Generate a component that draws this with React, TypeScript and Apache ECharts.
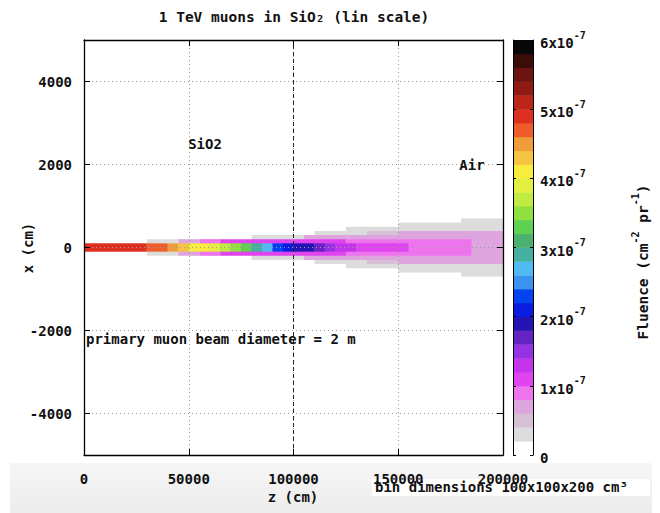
import React, { useEffect, useRef } from "react";
import * as echarts from "echarts";

// ---- data (fluence in units of 1e-7 cm^-2 pr^-1) ----
const zBinWidth = 5000; // cm, 40 bins over 0..200000
const ringWidth = 100; // cm, |x| rings around the beam axis

// core |x| < 100 cm
const ring0 = [4.9, 4.9, 4.9, 4.9, 4.9, 4.9, 4.7, 4.7, 4.5, 4.3, 4.1, 4.1, 3.9, 3.7, 3.5, 3.3, 2.9, 2.7, 2.3, 2.1, 1.9, 1.9, 1.7, 1.5, 1.3, 1.3, 1.1, 1.1, 1.1, 1.1, 1.1, 0.9, 0.9, 0.9, 0.9, 0.9, 0.9, 0.7, 0.7, 0.7];
// 100 < |x| < 200
const ring1 = [0, 0, 0, 0, 0, 0, 0.3, 0.3, 0.3, 0.7, 0.7, 0.9, 0.9, 1.1, 1.1, 1.1, 1.1, 1.1, 1.1, 1.1, 1.1, 1.1, 1.1, 1.1, 1.1, 0.9, 0.9, 0.9, 0.9, 0.9, 0.9, 0.9, 0.9, 0.9, 0.9, 0.9, 0.9, 0.7, 0.7, 0.7];
// 200 < |x| < 300
const ring2 = [0, 0, 0, 0, 0, 0, 0, 0, 0, 0, 0, 0, 0, 0, 0, 0, 0.3, 0.3, 0.3, 0.3, 0.3, 0.7, 0.7, 0.7, 0.7, 0.7, 0.7, 0.7, 0.7, 0.7, 0.7, 0.7, 0.7, 0.7, 0.7, 0.7, 0.7, 0.7, 0.7, 0.7];
// 300 < |x| < 400
const ring3 = [0, 0, 0, 0, 0, 0, 0, 0, 0, 0, 0, 0, 0, 0, 0, 0, 0, 0, 0, 0, 0, 0, 0.3, 0.3, 0.3, 0.3, 0.3, 0.5, 0.5, 0.5, 0.7, 0.7, 0.7, 0.7, 0.7, 0.7, 0.7, 0.7, 0.7, 0.7];
// 400 < |x| < 500
const ring4 = [0, 0, 0, 0, 0, 0, 0, 0, 0, 0, 0, 0, 0, 0, 0, 0, 0, 0, 0, 0, 0, 0, 0, 0, 0, 0.3, 0.3, 0.3, 0.3, 0.3, 0.3, 0.3, 0.3, 0.3, 0.3, 0.3, 0.3, 0.3, 0.3, 0.3];
// 500 < |x| < 600
const ring5 = [0, 0, 0, 0, 0, 0, 0, 0, 0, 0, 0, 0, 0, 0, 0, 0, 0, 0, 0, 0, 0, 0, 0, 0, 0, 0, 0, 0, 0, 0, 0.3, 0.3, 0.3, 0.3, 0.3, 0.3, 0.3, 0.3, 0.3, 0.3];
// 600 < |x| < 700
const ring6 = [0, 0, 0, 0, 0, 0, 0, 0, 0, 0, 0, 0, 0, 0, 0, 0, 0, 0, 0, 0, 0, 0, 0, 0, 0, 0, 0, 0, 0, 0, 0, 0, 0, 0, 0, 0, 0.3, 0.3, 0.3, 0.3];

const rings = [ring0, ring1, ring2, ring3, ring4, ring5, ring6];

// colour palette, 30 levels of 0.2e-7 each, from 0 to 6e-7
const paletteColors = [
  "#ffffff", "#dcdcdc", "#d6c0d6", "#dea4de", "#ee74ee", "#e044ee", "#c434ea", "#9632e4", "#6424c4", "#2414b4",
  "#0a1ce0", "#0444f0", "#3c92f0", "#52baf2", "#46b0a0", "#4cb070", "#5ed052", "#90e042", "#c0ec42", "#e4f040",
  "#f8ec3e", "#f4c442", "#f09c3a", "#ee5c2a", "#de3020", "#bc2618", "#901a12", "#6c1410", "#3c0c08", "#080808",
];
const levelStep = 0.2;
const fluenceMax = 6;

const xTickValues = [0, 50000, 100000, 150000, 200000];
const yTickValues = [-4000, -2000, 0, 2000, 4000];

const FONT = '"DejaVu Sans Mono", monospace';

function colorFor(v: number) {
  const k = Math.min(paletteColors.length - 1, Math.floor(v / levelStep));
  return paletteColors[k];
}

function buildCells() {
  const cells: number[][] = [];
  for (let r = rings.length - 1; r >= 0; r--) {
    const arr = rings[r];
    let i = 0;
    while (i < arr.length) {
      const v = arr[i];
      let j = i;
      while (j + 1 < arr.length && arr[j + 1] === v) j++;
      if (v > 0) {
        cells.push([i * zBinWidth, (j + 1) * zBinWidth, -(r + 1) * ringWidth, (r + 1) * ringWidth, v]);
      }
      i = j + 1;
    }
  }
  return cells;
}

export default function App() {
  const ref = useRef<HTMLDivElement>(null);
  useEffect(() => {
    if (!ref.current) return;
    const chart = echarts.init(ref.current, undefined, { renderer: "svg" });
    const cells = buildCells();
    const cbData = paletteColors.map((c, k) => [k * levelStep, (k + 1) * levelStep, k]);

    const baseLabel = { fontFamily: FONT, fontWeight: "bold" as const, fontSize: 14, color: "#111" };
    const axisLineStyle = { color: "#000", width: 1.3 };

    const option: any = {
      animation: false,
      backgroundColor: "#ffffff",
      grid: [
        { left: 84, top: 40, width: 419, height: 415, containLabel: false },
        { left: 513, top: 40, width: 20, height: 415, containLabel: false },
      ],
      xAxis: [
        {
          gridIndex: 0, type: "value", min: 0, max: 200000, interval: 50000, position: "bottom", z: 5,
          axisLine: { show: true, onZero: false, lineStyle: axisLineStyle },
          axisTick: { show: true, inside: true, length: 6, lineStyle: { color: "#000" } },
          axisLabel: { ...baseLabel, margin: 17, formatter: (v: number) => (xTickValues.includes(v) ? String(v) : "") },
          splitLine: { show: true, lineStyle: { color: "#9a9a9a", type: [1, 3], width: 1 } },
        },
        {
          gridIndex: 0, type: "value", min: 0, max: 200000, interval: 50000, position: "top", z: 5,
          axisLine: { show: true, onZero: false, lineStyle: axisLineStyle },
          axisTick: { show: true, inside: true, length: 6, lineStyle: { color: "#000" } },
          axisLabel: { show: false }, splitLine: { show: false },
        },
        { gridIndex: 1, type: "value", min: 0, max: 1, show: false },
      ],
      yAxis: [
        {
          gridIndex: 0, type: "value", min: -5000, max: 5000, splitNumber: 5, position: "left", z: 5,
          axisLine: { show: true, onZero: false, lineStyle: axisLineStyle },
          axisTick: { show: true, inside: true, length: 6, lineStyle: { color: "#000" } },
          axisLabel: { ...baseLabel, margin: 12, showMinLabel: false, showMaxLabel: false, formatter: (v: number) => (yTickValues.includes(v) ? String(v) : "") },
          splitLine: { show: true, showMinLine: false, showMaxLine: false, lineStyle: { color: "#9a9a9a", type: [1, 3], width: 1 } },
        },
        {
          gridIndex: 0, type: "value", min: -5000, max: 5000, splitNumber: 5, position: "right", z: 5,
          axisLine: { show: true, onZero: false, lineStyle: axisLineStyle },
          axisTick: { show: true, inside: true, length: 6, lineStyle: { color: "#000" } },
          axisLabel: { show: false }, splitLine: { show: false },
        },
        {
          gridIndex: 1, type: "value", min: 0, max: fluenceMax, interval: 1, position: "right", z: 5,
          axisLine: { show: true, onZero: false, lineStyle: { color: "#000", width: 1 } },
          axisTick: { show: true, inside: true, length: 5, lineStyle: { color: "#000", type: [3, 2] } },
          axisLabel: {
            margin: 7,
            formatter: (v: number) => (v === 0 ? "{b|0}" : `{b|${v}x10}{s|-7}`),
            rich: {
              b: { ...baseLabel, lineHeight: 20, verticalAlign: "bottom" },
              s: { ...baseLabel, fontSize: 10, lineHeight: 20, verticalAlign: "top" },
            },
          },
          splitLine: { show: false },
        },
        {
          gridIndex: 1, type: "value", min: 0, max: fluenceMax, interval: 1, position: "left", z: 5,
          axisLine: { show: true, onZero: false, lineStyle: { color: "#000", width: 1 } },
          axisTick: { show: true, inside: true, length: 5, lineStyle: { color: "#000", type: [3, 2] } },
          axisLabel: { show: false }, splitLine: { show: false },
        },
      ],
      graphic: [
        {
          type: "rect", z: -10, shape: { x: 10, y: 463, width: 642, height: 50 },
          style: { fill: new echarts.graphic.LinearGradient(0, 0, 0, 1, [{ offset: 0, color: "#f6f6f6" }, { offset: 1, color: "#ececec" }]) },
        },
        { type: "rect", z: -9, shape: { x: 372, y: 479, width: 278, height: 17 }, style: { fill: "#ffffff" } },
        { type: "text", z: 20, x: 294, y: 17, style: { text: "1 TeV muons in SiO₂ (lin scale)", font: `bold 14.5px ${FONT}`, fill: "#111", textAlign: "center", textVerticalAlign: "middle" } },
        { type: "text", z: 20, x: 205, y: 144, style: { text: "SiO2", font: `bold 14px ${FONT}`, fill: "#111", textAlign: "center", textVerticalAlign: "middle" } },
        { type: "text", z: 20, x: 472, y: 165, style: { text: "Air", font: `bold 14px ${FONT}`, fill: "#111", textAlign: "center", textVerticalAlign: "middle" } },
        { type: "text", z: 20, x: 86, y: 339, style: { text: "primary muon beam diameter = 2 m", font: `bold 14px ${FONT}`, fill: "#111", textAlign: "left", textVerticalAlign: "middle" } },
        { type: "text", z: 20, x: 293, y: 497, style: { text: "z (cm)", font: `bold 14px ${FONT}`, fill: "#111", textAlign: "center", textVerticalAlign: "middle" } },
        { type: "text", z: 20, x: 375, y: 487, style: { text: "bin dimensions 100x100x200 cm³", font: `bold 14px ${FONT}`, fill: "#111", textAlign: "left", textVerticalAlign: "middle" } },
        { type: "text", z: 20, x: 28, y: 248, rotation: Math.PI / 2, style: { text: "x (cm)", font: `bold 14px ${FONT}`, fill: "#111", textAlign: "center", textVerticalAlign: "middle" } },
        {
          type: "text", z: 20, x: 640, y: 262, rotation: Math.PI / 2,
          style: {
            text: "{b|Fluence (cm}{s|-2}{b| pr}{s|-1}{b|)}",
            textAlign: "center", textVerticalAlign: "middle",
            rich: {
              b: { font: `bold 14.5px ${FONT}`, fill: "#111", lineHeight: 20, verticalAlign: "bottom" },
              s: { font: `bold 10px ${FONT}`, fill: "#111", lineHeight: 20, verticalAlign: "top" },
            },
          },
        },
      ],
      series: [
        {
          type: "custom", xAxisIndex: 0, yAxisIndex: 0, z: 2, clip: true,
          data: cells,
          renderItem: (params: any, api: any) => {
            const p0 = api.coord([api.value(0), api.value(3)]);
            const p1 = api.coord([api.value(1), api.value(2)]);
            return {
              type: "rect",
              shape: { x: p0[0], y: p0[1], width: p1[0] - p0[0], height: p1[1] - p0[1] },
              style: { fill: colorFor(api.value(4)) },
            };
          },
          markLine: {
            silent: true, symbol: "none", label: { show: false },
            lineStyle: { color: "#222", type: [4, 3], width: 1 },
            data: [{ xAxis: 100000 }],
          },
        },
        {
          type: "custom", xAxisIndex: 2, yAxisIndex: 2, z: 2,
          data: cbData,
          renderItem: (params: any, api: any) => {
            const p0 = api.coord([0, api.value(1)]);
            const p1 = api.coord([1, api.value(0)]);
            return {
              type: "rect",
              shape: { x: p0[0], y: p0[1], width: p1[0] - p0[0], height: p1[1] - p0[1] + 0.4 },
              style: { fill: paletteColors[api.value(2)] },
            };
          },
        },
      ],
    };
    chart.setOption(option);
    return () => chart.dispose();
  }, []);
  return <div ref={ref} style={{ position: "fixed", left: 0, top: 0, width: 660, height: 513 }} />;
}
